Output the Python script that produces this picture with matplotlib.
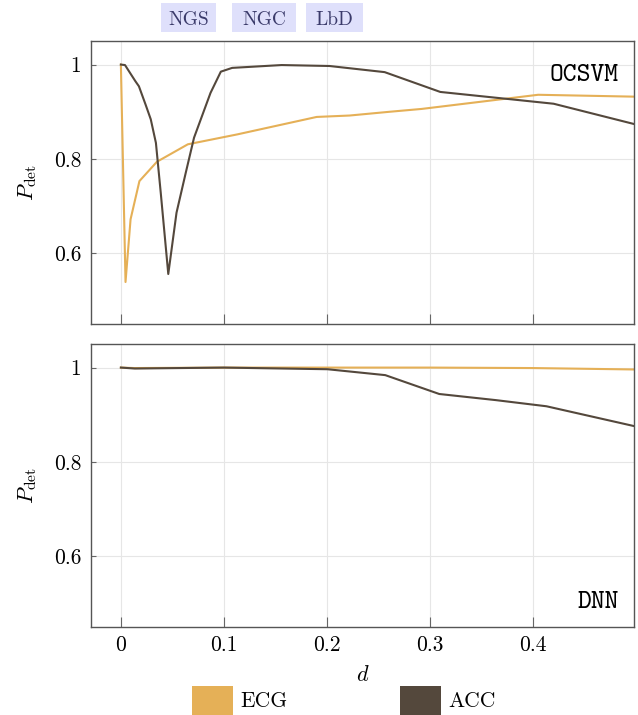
import numpy as np
import matplotlib
matplotlib.use("Agg")
import matplotlib.pyplot as plt
from matplotlib.patches import Rectangle

plt.rcParams['font.family'] = ['cmr10', 'DejaVu Serif']
plt.rcParams['mathtext.fontset'] = 'cm'
plt.rcParams['axes.formatter.use_mathtext'] = True
plt.rcParams['font.size'] = 15.5

W, H = 638, 715

# colours
c_ecg = '#e5b057'
c_acc = '#54483c'

# OCSVM panel
ocsvm_ecg_d = [0.0, 0.0045, 0.0094, 0.018, 0.035, 0.065, 0.113, 0.190, 0.222, 0.261, 0.292, 0.405, 0.498]
ocsvm_ecg_p = [1.0, 0.539, 0.672, 0.753, 0.794, 0.831, 0.852, 0.889, 0.892, 0.900, 0.906, 0.936, 0.932]
ocsvm_acc_d = [0.0, 0.004, 0.014, 0.0175, 0.024, 0.029, 0.034, 0.0387, 0.046, 0.054, 0.063, 0.071,
               0.087, 0.097, 0.108, 0.156, 0.2025, 0.256, 0.310, 0.420, 0.498]
ocsvm_acc_p = [1.0, 0.999, 0.965, 0.954, 0.915, 0.884, 0.834, 0.728, 0.556, 0.686, 0.771, 0.845,
               0.940, 0.985, 0.993, 0.999, 0.997, 0.984, 0.942, 0.917, 0.874]

# DNN panel
dnn_ecg_d = [0.0, 0.013, 0.1, 0.2, 0.3, 0.4, 0.498]
dnn_ecg_p = [1.0, 0.999, 1.0, 1.0, 1.0, 0.999, 0.996]
dnn_acc_d = [0.0, 0.0136, 0.1, 0.2005, 0.2566, 0.309, 0.364, 0.413, 0.498]
dnn_acc_p = [1.0, 0.998, 1.0, 0.9965, 0.984, 0.944, 0.931, 0.918, 0.876]

xticks = [0, 0.1, 0.2, 0.3, 0.4]
xlabels = ['0', '0.1', '0.2', '0.3', '0.4']
yticks = [0.6, 0.8, 1.0]
ylabels = ['0.6', '0.8', '1']

methods = ['NGS', 'NGC', 'LbD']
method_boxes = [(161, 216), (232, 296), (306, 363)]   # pixel spans of the boxes

series = ['ECG', 'ACC']
series_colors = [c_ecg, c_acc]
legend_x = [192, 400]   # left edge of each legend swatch, pixels

fig = plt.figure(figsize=(W / 100, H / 100), dpi=100)
ax1 = fig.add_axes([91 / W, 1 - 324 / H, 543 / W, 283 / H])
ax2 = fig.add_axes([91 / W, 1 - 627 / H, 543 / W, 283 / H])

panels = [(ax1, ocsvm_ecg_d, ocsvm_ecg_p, ocsvm_acc_d, ocsvm_acc_p, 'OCSVM', 0.859),
          (ax2, dnn_ecg_d, dnn_ecg_p, dnn_acc_d, dnn_acc_p, 'DNN', 0.067)]

for ax, ed, ep, ad, ap, name, ty in panels:
    ax.plot(ed, ep, color=c_ecg, lw=1.5)
    ax.plot(ad, ap, color=c_acc, lw=1.5)
    ax.set_xlim(-0.029, 0.498)
    ax.set_ylim(0.45, 1.05)
    ax.set_xticks(xticks)
    ax.set_yticks(yticks)
    ax.set_yticklabels(ylabels)
    ax.grid(True, color='#e6e6e6', lw=0.8)
    ax.set_axisbelow(True)
    ax.tick_params(axis='x', direction='in', length=7, color='#666666', pad=6)
    ax.tick_params(axis='y', direction='in', length=3.5, color='#666666', pad=7)
    for s in ax.spines.values():
        s.set_color('#555555')
        s.set_linewidth(1.0)
    ax.set_ylabel(r'$P_{\mathrm{det}}$', labelpad=11, fontsize=16)
    ax.text(0.972, ty, name, transform=ax.transAxes, ha='right', va='baseline',
            family='cmtt10', fontsize=19)

ax1.set_xticklabels([])
ax2.set_xticklabels(xlabels)
ax2.set_xlabel(r'$d$', labelpad=7, fontsize=16)

# method boxes on top
for lab, (x0, x1) in zip(methods, method_boxes):
    fig.patches.append(Rectangle((x0 / W, 1 - 32 / H), (x1 - x0) / W, 29 / H,
                                 transform=fig.transFigure, fc='#dfe0fb', ec='none'))
    fig.text((x0 + x1) / 2 / W, 1 - 25 / H, lab, ha='center', va='baseline',
             fontsize=14, color='#3b3b6b')

# legend at the bottom (swatches run off the lower edge like in the original)
for lab, col, x0 in zip(series, series_colors, legend_x):
    fig.patches.append(Rectangle((x0 / W, 1 - 720 / H), 41 / W, 34 / H,
                                 transform=fig.transFigure, fc=col, ec='none'))
    fig.text((x0 + 48) / W, 1 - 707 / H, lab, ha='left', va='baseline', fontsize=15.5)

fig.savefig('out.png', dpi=100)
